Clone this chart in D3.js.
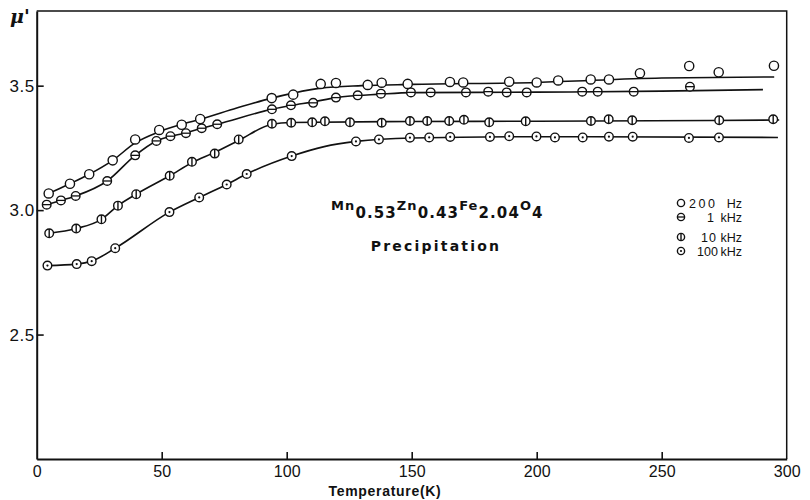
<!DOCTYPE html>
<html>
<head>
<meta charset="utf-8">
<script src="https://cdn.jsdelivr.net/npm/d3@7"></script>
<style>
  body { margin: 0; background: #fff; }
  svg { display: block; }
  text { fill: #111; }
</style>
</head>
<body>
<div id="chart"></div>
<script>
// measured points, temperature (K) and mu'
const t200  = [4.8, 13.3, 21.0, 30.4, 39.4, 49.0, 58.0, 65.4, 94.0, 102.6, 113.6, 119.7, 132.4, 138.0, 148.4, 165.3, 170.6, 189.0, 200.0, 208.6, 221.6, 228.9, 241.3, 261.0, 272.8, 294.9];
const mu200 = [3.067, 3.106, 3.144, 3.200, 3.284, 3.322, 3.343, 3.366, 3.450, 3.464, 3.507, 3.511, 3.503, 3.512, 3.507, 3.515, 3.513, 3.516, 3.513, 3.521, 3.525, 3.525, 3.550, 3.579, 3.554, 3.580];

const t1k  = [4.0, 9.7, 15.6, 28.2, 39.4, 47.9, 53.5, 59.7, 66.0, 72.2, 94.1, 101.7, 110.6, 119.7, 128.4, 137.7, 149.7, 157.6, 171.7, 180.6, 188.0, 196.0, 218.2, 224.4, 238.8, 261.3];
const mu1k = [3.022, 3.039, 3.057, 3.117, 3.220, 3.278, 3.297, 3.309, 3.329, 3.345, 3.405, 3.421, 3.431, 3.452, 3.461, 3.468, 3.473, 3.473, 3.473, 3.476, 3.473, 3.473, 3.476, 3.476, 3.476, 3.496];

const t10k  = [5.0, 15.8, 25.9, 32.5, 39.8, 53.2, 62.1, 71.2, 80.8, 94.1, 101.8, 110.2, 115.3, 125.3, 138.0, 149.3, 156.2, 165.0, 170.9, 181.0, 195.6, 221.7, 228.8, 238.2, 273.0, 294.6];
const mu10k = [2.907, 2.926, 2.963, 3.018, 3.064, 3.138, 3.194, 3.227, 3.284, 3.347, 3.351, 3.353, 3.357, 3.353, 3.351, 3.358, 3.358, 3.358, 3.363, 3.353, 3.357, 3.358, 3.365, 3.361, 3.361, 3.365];

const t100k  = [4.3, 16.0, 22.0, 31.4, 53.1, 65.0, 76.0, 84.0, 102.0, 127.7, 136.9, 149.3, 157.0, 165.4, 181.3, 189.0, 199.9, 207.3, 218.4, 228.9, 238.4, 260.9, 272.9];
const mu100k = [2.777, 2.783, 2.795, 2.847, 2.992, 3.051, 3.103, 3.145, 3.217, 3.276, 3.284, 3.291, 3.292, 3.294, 3.294, 3.297, 3.296, 3.292, 3.292, 3.295, 3.295, 3.290, 3.292];

// hand-drawn curves (knots)
const fitT200  = [4.8, 13.3, 21, 30.4, 39.4, 49, 58, 65.4, 80, 94, 102.6, 113.6, 130, 150, 200, 250, 295];
const fitMu200 = [3.067, 3.106, 3.144, 3.200, 3.270, 3.315, 3.345, 3.365, 3.410, 3.450, 3.470, 3.490, 3.500, 3.505, 3.513, 3.531, 3.535];
const fitT1k   = [4, 9.7, 15.6, 28.2, 39.4, 47.9, 53.5, 59.7, 66, 72.2, 94.1, 101.7, 110.6, 119.7, 137.7, 150, 200, 250, 290.5];
const fitMu1k  = [3.022, 3.039, 3.057, 3.117, 3.220, 3.278, 3.297, 3.310, 3.329, 3.345, 3.405, 3.420, 3.435, 3.452, 3.466, 3.472, 3.474, 3.478, 3.484];
const fitT10k  = [5, 15.8, 25.9, 32.5, 39.8, 53.2, 62.1, 71.2, 80.8, 94.1, 101.8, 150, 200, 297];
const fitMu10k = [2.907, 2.926, 2.963, 3.018, 3.064, 3.138, 3.190, 3.232, 3.280, 3.345, 3.352, 3.356, 3.357, 3.362];
const fitT100k  = [4.3, 16, 22, 31.4, 53.1, 65, 76, 84, 102, 115, 127.7, 150, 200, 296.5];
const fitMu100k = [2.777, 2.783, 2.795, 2.847, 2.992, 3.051, 3.103, 3.145, 3.217, 3.255, 3.276, 3.290, 3.295, 3.292];

const xTicks = [0, 50, 100, 150, 200, 250, 300];
const yTicks = [2.5, 3.0, 3.5];

const legendNum  = ["200", "1", "10", "100"];
const legendUnit = ["Hz", "kHz", "kHz", "kHz"];

const series = [
  { key: "open",  t: t200,  mu: mu200,  ft: fitT200,  fm: fitMu200,  r: 4.6 },
  { key: "hbar",  t: t1k,   mu: mu1k,   ft: fitT1k,   fm: fitMu1k,   r: 4.3 },
  { key: "vbar",  t: t10k,  mu: mu10k,  ft: fitT10k,  fm: fitMu10k,  r: 4.3 },
  { key: "dot",   t: t100k, mu: mu100k, ft: fitT100k, fm: fitMu100k, r: 4.3 }
];

const width = 810, height = 500;

const svg = d3.select("#chart").append("svg")
  .attr("width", width)
  .attr("height", height);

const x = d3.scaleLinear().domain([0, 300]).range([36.7, 786.7]);
const y = d3.scaleLinear().domain([2.0, 3.8]).range([459, 11]);

// frame (top and right sides)
svg.append("path")
  .attr("d", `M${x(0)},${y(3.8)}H${x(300)}V${y(2.0)}`)
  .attr("fill", "none")
  .attr("stroke", "#111")
  .attr("stroke-width", 1.5);

// axes
const xAxis = svg.append("g")
  .attr("transform", `translate(0,${y(2.0)})`)
  .call(d3.axisBottom(x).tickValues(xTicks).tickSize(-7).tickSizeOuter(0).tickPadding(4).tickFormat(d3.format("d")));

const yAxis = svg.append("g")
  .attr("transform", `translate(${x(0)},0)`)
  .call(d3.axisLeft(y).tickValues(yTicks).tickSize(-7).tickSizeOuter(0).tickPadding(2).tickFormat(d3.format(".1f")));

[xAxis, yAxis].forEach(a => {
  a.select(".domain").attr("stroke", "#111").attr("stroke-width", 2);
  a.selectAll(".tick line").attr("stroke", "#111").attr("stroke-width", 1.6);
  a.selectAll(".tick text")
    .attr("fill", "#111")
    .style("font-family", "'Liberation Sans', Arial, sans-serif")
    .style("font-size", "16px");
});
xAxis.selectAll(".tick line").filter(d => d === 0 || d === 300).remove();
xAxis.selectAll(".tick text").attr("dy", "0.9em");
yAxis.selectAll(".tick text").style("font-size", "17px").style("letter-spacing", "0.5px");

// axis titles
svg.append("text")
  .attr("x", 385).attr("y", 496)
  .attr("text-anchor", "middle")
  .style("font-family", "'Liberation Sans', Arial, sans-serif")
  .style("font-weight", "bold")
  .style("font-size", "14px")
  .style("letter-spacing", "0.7px")
  .text("Temperature(K)");

svg.append("text")
  .attr("x", 10).attr("y", 23)
  .style("font-family", "'DejaVu Serif', serif")
  .style("font-weight", "bold")
  .style("font-style", "italic")
  .style("font-size", "19px")
  .text("\u03bc'");

// curves
const line = d3.line()
  .x(d => x(d[0]))
  .y(d => y(d[1]))
  .curve(d3.curveMonotoneX);

series.forEach(s => {
  svg.append("path")
    .datum(d3.zip(s.ft, s.fm))
    .attr("d", line)
    .attr("fill", "none")
    .attr("stroke", "#111")
    .attr("stroke-width", 1.6);
});

// markers
function marker(g, kind, r) {
  g.append("circle")
    .attr("r", r)
    .attr("fill", "#fff")
    .attr("stroke", "#111")
    .attr("stroke-width", 1.4);
  if (kind === "hbar") {
    g.append("line").attr("x1", -r).attr("x2", r).attr("y1", 0).attr("y2", 0)
      .attr("stroke", "#111").attr("stroke-width", 1.3);
  } else if (kind === "vbar") {
    g.append("line").attr("x1", 0).attr("x2", 0).attr("y1", -r).attr("y2", r)
      .attr("stroke", "#111").attr("stroke-width", 1.4);
  } else if (kind === "dot") {
    g.append("circle").attr("r", 1.1).attr("fill", "#111");
  }
}

series.forEach(s => {
  svg.append("g").selectAll("g")
    .data(d3.zip(s.t, s.mu))
    .join("g")
    .attr("transform", d => `translate(${x(d[0])},${y(d[1])})`)
    .each(function () { marker(d3.select(this), s.key, s.r); });
});

// formula label
const formula = svg.append("text")
  .attr("x", 331).attr("y", 210)
  .style("font-family", "'DejaVu Sans', sans-serif")
  .style("font-weight", "bold")
  .style("font-size", "14px")
  .style("letter-spacing", "1.1px");
const parts = [["Mn", false], ["0.53", true], ["Zn", false], ["0.43", true], ["Fe", false], ["2.04", true], ["O", false], ["4", true]];
parts.forEach(p => {
  formula.append("tspan")
    .attr("dy", p[1] ? 8 : -8)
    .style("font-size", p[1] ? "15px" : "13px")
    .text(p[0]);
});
formula.select("tspan").attr("dy", 0);

svg.append("text")
  .attr("x", 436).attr("y", 251)
  .attr("text-anchor", "middle")
  .style("font-family", "'DejaVu Sans', sans-serif")
  .style("font-weight", "bold")
  .style("font-size", "14px")
  .style("letter-spacing", "2.2px")
  .text("Precipitation");

// legend
const legendY = [203, 217, 237, 251];
const legendX = [689, 707, 701, 697];
const legendSpacing = [2.5, 0, 1, 0];
const legend = svg.append("g");
series.forEach((s, i) => {
  const g = legend.append("g").attr("transform", `translate(681,${legendY[i]})`);
  marker(g, s.key, 3.6);
  legend.append("text")
    .attr("x", legendX[i]).attr("y", legendY[i] + 4.5)
    .style("font-family", "'Liberation Sans', Arial, sans-serif")
    .style("font-size", "12.5px")
    .style("letter-spacing", legendSpacing[i] + "px")
    .text(legendNum[i]);
  legend.append("text")
    .attr("x", 742).attr("y", legendY[i] + 4.5)
    .attr("text-anchor", "end")
    .style("font-family", "'Liberation Sans', Arial, sans-serif")
    .style("font-size", "12.5px")
    .text(legendUnit[i]);
});
</script>
</body>
</html>
